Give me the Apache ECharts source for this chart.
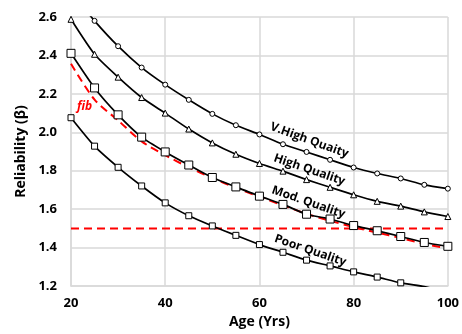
<!DOCTYPE html>
<html>
<head>
<meta charset="utf-8">
<script src="https://cdn.jsdelivr.net/npm/echarts@6/dist/echarts.min.js"></script>
<style>
  html, body { margin: 0; padding: 0; background: #fff; }
  #main { width: 462px; height: 334px; }
</style>
</head>
<body>
<div id="main"></div>
<script>
// ages on the x axis (markers every 5 years)
var ages = [20, 25, 30, 35, 40, 45, 50, 55, 60, 65, 70, 75, 80, 85, 90, 95, 100];

// reliability index per quality class
var vHigh = [2.73, 2.58, 2.448, 2.337, 2.248, 2.169, 2.096, 2.037, 1.989, 1.938, 1.898, 1.857, 1.817, 1.786, 1.760, 1.727, 1.707];
var high  = [2.588, 2.406, 2.287, 2.181, 2.100, 2.017, 1.945, 1.886, 1.838, 1.798, 1.754, 1.714, 1.675, 1.641, 1.616, 1.586, 1.562];
var mod   = [2.411, 2.231, 2.091, 1.975, 1.898, 1.830, 1.765, 1.716, 1.668, 1.625, 1.574, 1.549, 1.515, 1.488, 1.458, 1.427, 1.407];
var poor  = [2.076, 1.928, 1.818, 1.721, 1.633, 1.566, 1.513, 1.464, 1.416, 1.376, 1.335, 1.305, 1.274, 1.247, 1.217, 1.197, 1.17];
var fib   = [2.357, 2.17, 2.062, 1.953, 1.881, 1.818, 1.762, 1.712, 1.665, 1.620, 1.576, 1.540, 1.507, 1.478, 1.450, 1.420, 1.395];
var target = 1.5;

var xTicks = [20, 40, 60, 80, 100];

// text annotations: [age, beta, text, angle(deg), colour, italic]
var notes = [
  [70.6, 1.958, 'V.High Quaity', -20, '#000', false],
  [70.6, 1.805, 'High Quality', -19, '#000', false],
  [70.4, 1.636, 'Mod. Quality', -19, '#000', false],
  [70.8, 1.385, 'Poor Quality', -19, '#000', false],
  [22.9, 2.135, 'fib', 0, '#ff0000', true]
];

function pairs(vals) {
  var out = [];
  for (var i = 0; i < ages.length; i++) out.push([ages[i], vals[i]]);
  return out;
}

var FONT = '"Open Sans", "Liberation Sans", sans-serif';

function qualitySeries(name, vals, symbol, size) {
  return {
    name: name,
    type: 'line',
    data: pairs(vals),
    smooth: 0.2,
    symbol: symbol,
    symbolSize: size,
    showAllSymbol: true,
    lineStyle: { color: '#000', width: 1.7 },
    itemStyle: { color: '#fff', borderColor: '#000', borderWidth: 1 },
    z: 3
  };
}

var myChart = echarts.init(document.getElementById('main'));
var option = {
  animation: false,
  backgroundColor: '#fff',
  grid: { left: 71, right: 6, top: 17, bottom: 40 },
  xAxis: {
    type: 'value',
    min: 20, max: 100, interval: 20,
    name: 'Age (Yrs)',
    nameLocation: 'middle',
    nameGap: 25,
    nameTextStyle: { fontFamily: FONT, fontWeight: 'bold', fontSize: 14, color: '#000' },
    axisLine: { show: true, lineStyle: { color: '#d9d9d9', width: 1.5 } },
    axisTick: { show: false },
    axisLabel: {
      margin: 11, color: '#000', fontFamily: FONT, fontWeight: 'bold', fontSize: 13,
      formatter: function (v) { return xTicks.indexOf(v) >= 0 ? String(v) : ''; }
    },
    splitLine: { show: true, lineStyle: { color: '#d9d9d9', width: 1.5 } }
  },
  yAxis: {
    type: 'value',
    min: 1.2, max: 2.6, interval: 0.2,
    name: 'Reliability (β)',
    nameLocation: 'middle',
    nameGap: 38,
    nameTextStyle: { fontFamily: FONT, fontWeight: 'bold', fontSize: 14, color: '#000' },
    axisLine: { show: true, lineStyle: { color: '#d9d9d9', width: 1.5 } },
    axisTick: { show: false },
    axisLabel: {
      margin: 14, color: '#000', fontFamily: FONT, fontWeight: 'bold', fontSize: 13,
      formatter: function (v) { return v.toFixed(1); }
    },
    splitLine: { show: true, lineStyle: { color: '#d9d9d9', width: 1.5 } }
  },
  series: [
    {
      name: 'fib',
      type: 'line',
      data: pairs(fib),
      smooth: 0.3,
      symbol: 'none',
      lineStyle: { color: '#ff0000', width: 2, type: [8, 5] },
      z: 2
    },
    {
      name: 'target',
      type: 'line',
      data: [[ages[0], target], [ages[ages.length - 1], target]],
      symbol: 'none',
      lineStyle: { color: '#ff0000', width: 2, type: [8, 5] },
      z: 2
    },
    qualitySeries('V.High', vHigh, 'circle', 5),
    qualitySeries('High', high, 'triangle', 6),
    qualitySeries('Mod', mod, 'rect', 8),
    qualitySeries('Poor', poor, 'rect', 6)
  ]
};
myChart.setOption(option);

// place annotation texts from data coordinates
var graphics = [];
for (var i = 0; i < notes.length; i++) {
  var p = myChart.convertToPixel({ gridIndex: 0 }, [notes[i][0], notes[i][1]]);
  graphics.push({
    type: 'text',
    x: p[0], y: p[1],
    rotation: notes[i][3] * Math.PI / 180,
    style: {
      text: notes[i][2],
      fill: notes[i][4],
      font: (notes[i][5] ? 'italic ' : '') + 'bold 12px ' + FONT,
      align: 'center',
      verticalAlign: 'middle'
    },
    z: 10
  });
}
myChart.setOption({ graphic: graphics });
</script>
</body>
</html>
